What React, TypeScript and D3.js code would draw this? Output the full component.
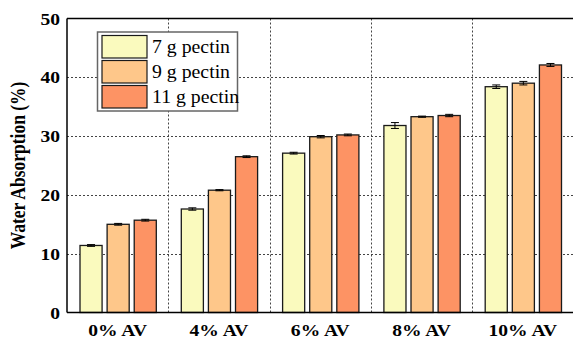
import React from "react";
import * as d3 from "d3";

const categories = ["0% AV", "4% AV", "6% AV", "8% AV", "10% AV"];
const seriesNames = ["7 g pectin", "9 g pectin", "11 g pectin"];
const pectin7 = [11.4, 17.6, 27.1, 31.8, 38.4];
const pectin9 = [15.0, 20.8, 29.9, 33.3, 39.0];
const pectin11 = [15.7, 26.5, 30.2, 33.5, 42.1];
const err7 = [0.15, 0.2, 0.15, 0.5, 0.3];
const err9 = [0.15, 0.1, 0.2, 0.1, 0.3];
const err11 = [0.15, 0.15, 0.15, 0.2, 0.25];
const yTicks = [0, 10, 20, 30, 40, 50];
const colors = ["#FAFABE", "#FEC78A", "#FD9364"];

const W = 573;
const H = 339;
const left = 67;
const right = 573;
const top = 18.5;
const bottom = 312.5;
const SX = 1.15;

const serif = '"Liberation Serif", "Times New Roman", Times, "DejaVu Serif", serif';

export default function App() {
  const values = [pectin7, pectin9, pectin11];
  const errs = [err7, err9, err11];
  const y = d3.scaleLinear().domain([0, 50]).range([bottom, top]);
  const x0 = d3.scaleBand<string>().domain(categories).range([left, right + 0.5]).padding(0);
  const bw = x0.bandwidth();
  const x1 = d3
    .scaleBand<string>()
    .domain(seriesNames)
    .range([13, bw - 12])
    .paddingInner(5 / 27)
    .paddingOuter(0);

  const txt = { fontFamily: serif };

  return (
    <svg
      width={W}
      height={H}
      style={{ position: "absolute", left: 0, top: 0, background: "#fff", fontFamily: serif }}
    >
      <rect x={0} y={0} width={W} height={H} fill="#fff" />
      {yTicks
        .filter((t) => t > 0 && t < 50)
        .map((t) => (
          <line
            key={"hg" + t}
            x1={left}
            x2={right}
            y1={Math.round(y(t)) + 0.5}
            y2={Math.round(y(t)) + 0.5}
            stroke="#444"
            strokeWidth={1}
            strokeDasharray="2,2"
          />
        ))}
      {categories.slice(1).map((c) => (
        <line
          key={"vg" + c}
          x1={Math.round(x0(c)!) + 0.5}
          x2={Math.round(x0(c)!) + 0.5}
          y1={top}
          y2={bottom}
          stroke="#444"
          strokeWidth={1}
          strokeDasharray="2,2"
        />
      ))}
      {categories.map((c, i) => (
        <g key={"g" + c} transform={`translate(${x0(c)},0)`}>
          {seriesNames.map((s, j) => {
            const v = values[j][i];
            const e = errs[j][i];
            const bx = x1(s)!;
            const cx = bx + x1.bandwidth() / 2;
            return (
              <g key={s}>
                <rect
                  x={bx}
                  y={y(v)}
                  width={x1.bandwidth()}
                  height={bottom - y(v)}
                  fill={colors[j]}
                  stroke="#1a1a1a"
                  strokeWidth={1.3}
                />
                <line x1={cx} x2={cx} y1={y(v + e)} y2={y(v - e)} stroke="#000" strokeWidth={1} />
                <line x1={cx - 4} x2={cx + 4} y1={y(v + e)} y2={y(v + e)} stroke="#000" strokeWidth={1} />
                <line x1={cx - 4} x2={cx + 4} y1={y(v - e)} y2={y(v - e)} stroke="#000" strokeWidth={1} />
              </g>
            );
          })}
        </g>
      ))}
      <line x1={left} x2={right + 1} y1={top} y2={top} stroke="#000" strokeWidth={1.5} />
      <line x1={left} x2={right + 1} y1={bottom} y2={bottom} stroke="#000" strokeWidth={1.5} />
      <line x1={left} x2={left} y1={top} y2={bottom} stroke="#000" strokeWidth={1.5} />
      {yTicks.map((t) => (
        <text
          key={"yt" + t}
          transform={`translate(60,${y(t) + 6}) scale(${SX},1)`}
          textAnchor="end"
          fontSize={17}
          fontWeight="bold"
          style={txt}
        >
          {t}
        </text>
      ))}
      {categories.map((c) => (
        <text
          key={"xl" + c}
          transform={`translate(${x0(c)! + bw / 2},335.5) scale(${SX},1)`}
          textAnchor="middle"
          fontSize={17}
          fontWeight="bold"
          style={txt}
        >
          {c}
        </text>
      ))}
      <text
        transform={`translate(25,${(top + bottom) / 2}) rotate(-90) scale(1,${SX})`}
        textAnchor="middle"
        fontSize={17.5}
        fontWeight="bold"
        style={txt}
      >
        Water Absorption (%)
      </text>
      <rect x={97.5} y={32} width={140} height={79} fill="#fff" stroke="#666" strokeWidth={1.5} />
      {seriesNames.map((s, j) => (
        <g key={"lg" + s}>
          <rect
            x={102}
            y={35.5 + j * 25}
            width={45}
            height={22.5}
            fill={colors[j]}
            stroke="#1a1a1a"
            strokeWidth={1.2}
          />
          <text
            transform={`translate(152,${53 + j * 25}) scale(1.1,1)`}
            fontSize={18}
            style={txt}
          >
            {s}
          </text>
        </g>
      ))}
    </svg>
  );
}
